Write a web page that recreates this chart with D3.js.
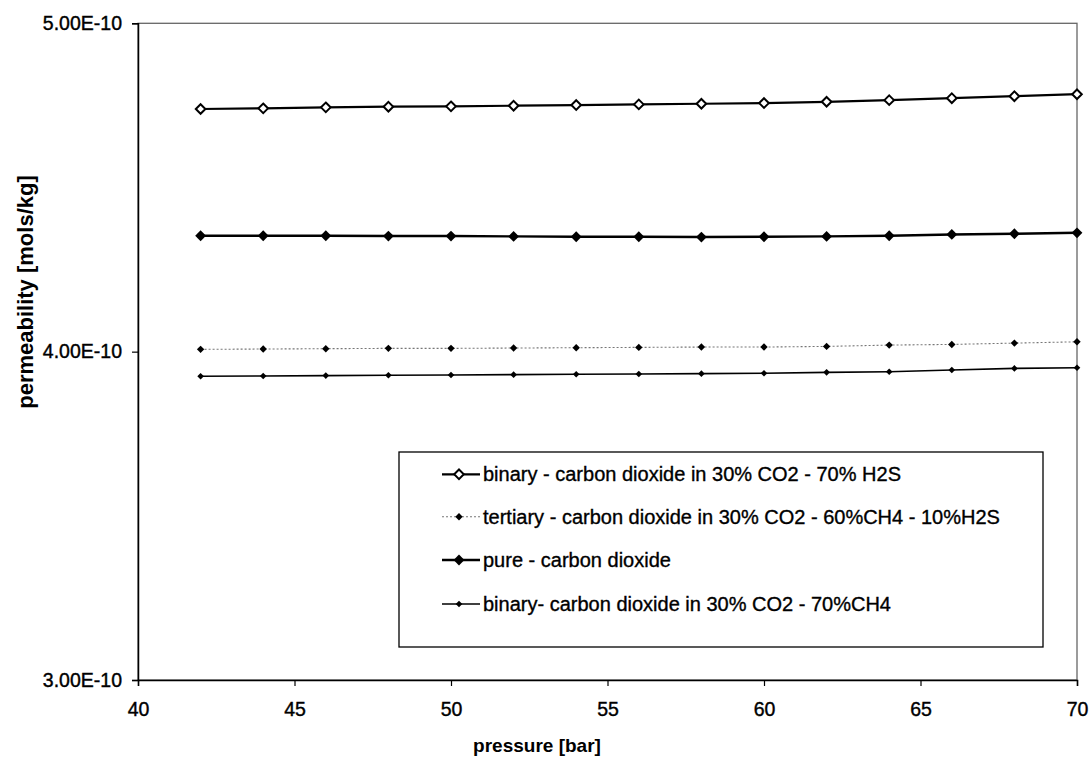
<!DOCTYPE html>
<html>
<head>
<meta charset="utf-8">
<script src="https://cdn.jsdelivr.net/npm/d3@7"></script>
<style>
  html, body { margin: 0; padding: 0; background: #fff; }
  svg { display: block; }
  text { font-family: "Liberation Sans", Arial, sans-serif; fill: #000; }
</style>
</head>
<body>
<svg id="chart" width="1091" height="757"></svg>
<script>
// Pressure steps (bar)
const pressure = [42, 44, 46, 48, 50, 52, 54, 56, 58, 60, 62, 64, 66, 68, 70];

// Permeability of CO2 for each feed composition (mols/kg)
const binaryH2S = [4.739e-10, 4.741e-10, 4.744e-10, 4.746e-10, 4.747e-10, 4.749e-10, 4.751e-10, 4.753e-10,
                   4.755e-10, 4.757e-10, 4.761e-10, 4.766e-10, 4.772e-10, 4.778e-10, 4.784e-10];
const tertiary  = [4.007e-10, 4.008e-10, 4.009e-10, 4.010e-10, 4.010e-10, 4.011e-10, 4.012e-10, 4.013e-10,
                   4.014e-10, 4.014e-10, 4.016e-10, 4.020e-10, 4.022e-10, 4.026e-10, 4.030e-10];
const pureCO2   = [4.353e-10, 4.353e-10, 4.353e-10, 4.352e-10, 4.352e-10, 4.351e-10, 4.350e-10, 4.350e-10,
                   4.349e-10, 4.350e-10, 4.351e-10, 4.353e-10, 4.357e-10, 4.359e-10, 4.362e-10];
const binaryCH4 = [3.925e-10, 3.926e-10, 3.927e-10, 3.928e-10, 3.929e-10, 3.930e-10, 3.931e-10, 3.932e-10,
                   3.933e-10, 3.934e-10, 3.937e-10, 3.939e-10, 3.944e-10, 3.949e-10, 3.951e-10];

const seriesNames = [
  "binary - carbon dioxide in 30% CO2 - 70% H2S",
  "tertiary - carbon dioxide in 30% CO2 - 60%CH4 - 10%H2S",
  "pure - carbon dioxide",
  "binary- carbon dioxide in 30% CO2 - 70%CH4"
];

const xTicks = [40, 45, 50, 55, 60, 65, 70];
const yTicks = [3e-10, 4e-10, 5e-10];

// Visual style per series
const styles = [
  { values: binaryH2S, stroke: "#000", width: 2.2, dash: null,  r: 4.8, fill: "#fff", mstroke: 2 },
  { values: tertiary,  stroke: "#777", width: 1.1, dash: "2,2", r: 3.7, fill: "#000", mstroke: 0 },
  { values: pureCO2,   stroke: "#000", width: 2.4, dash: null,  r: 5.4, fill: "#000", mstroke: 0 },
  { values: binaryCH4, stroke: "#000", width: 1.6, dash: null,  r: 3.3, fill: "#000", mstroke: 0 }
];

const svg = d3.select("#chart");
const plotLeft = 138, plotRight = 1077, plotTop = 23.3, plotBottom = 680;

const x = d3.scaleLinear().domain([40, 70]).range([plotLeft, plotRight]);
const y = d3.scaleLinear().domain([3e-10, 5e-10]).range([plotBottom, plotTop]);

// square diamond marker (rotated square)
const squareDiamond = {
  draw(ctx, size) {
    const r = Math.sqrt(size / 2);
    ctx.moveTo(0, -r); ctx.lineTo(r, 0); ctx.lineTo(0, r); ctx.lineTo(-r, 0); ctx.closePath();
  }
};
const marker = r => d3.symbol().type(squareDiamond).size(2 * r * r)();

// plot frame
svg.append("rect")
  .attr("x", plotLeft).attr("y", plotTop)
  .attr("width", plotRight - plotLeft).attr("height", plotBottom - plotTop)
  .attr("fill", "none").attr("stroke", "#666").attr("stroke-width", 1.3);

// axes
const xAxis = d3.axisBottom(x).tickValues(xTicks).tickSize(6).tickPadding(16).tickFormat(d3.format("d"));
const yAxis = d3.axisLeft(y).tickValues(yTicks).tickSize(6).tickPadding(10)
  .tickFormat(v => (v / 1e-10).toFixed(2) + "E-10");

const gx = svg.append("g").attr("transform", `translate(0,${plotBottom})`).call(xAxis);
const gy = svg.append("g").attr("transform", `translate(${plotLeft},0)`).call(yAxis);
[gx, gy].forEach(g => {
  g.select(".domain").attr("stroke", "#000").attr("stroke-width", 1.5);
  g.selectAll(".tick line").attr("stroke", "#000").attr("stroke-width", 1.2);
  g.selectAll(".tick text").attr("font-size", 19.5).attr("fill", "#000")
    .attr("stroke", "#000").attr("stroke-width", 0.4)
    .attr("font-family", "Liberation Sans, Arial, sans-serif");
});

// axis titles
svg.append("text")
  .attr("x", 537).attr("y", 752)
  .attr("text-anchor", "middle").attr("font-size", 19).attr("font-weight", "bold")
  .text("pressure [bar]");
svg.append("text")
  .attr("transform", "translate(33,292) rotate(-90)")
  .attr("text-anchor", "middle").attr("font-size", 22).attr("font-weight", "bold")
  .text("permeability [mols/kg]");

// series lines and markers
const line = d3.line().x((d, i) => x(pressure[i])).y(d => y(d));
styles.forEach(s => {
  const g = svg.append("g");
  g.append("path").datum(s.values)
    .attr("d", line).attr("fill", "none")
    .attr("stroke", s.stroke).attr("stroke-width", s.width)
    .attr("stroke-dasharray", s.dash);
  g.selectAll("path.m").data(s.values).join("path")
    .attr("class", "m")
    .attr("transform", (d, i) => `translate(${x(pressure[i])},${y(d)})`)
    .attr("d", marker(s.r))
    .attr("fill", s.fill)
    .attr("stroke", "#000").attr("stroke-width", s.mstroke);
});

// legend
const lg = svg.append("g");
lg.append("rect").attr("x", 399).attr("y", 452).attr("width", 644).attr("height", 195)
  .attr("fill", "#fff").attr("stroke", "#000").attr("stroke-width", 1.3);
const rowY = [474.3, 516.7, 560, 604];
styles.forEach((s, k) => {
  const cy = rowY[k];
  lg.append("line").attr("x1", 442).attr("x2", 480).attr("y1", cy).attr("y2", cy)
    .attr("stroke", s.stroke).attr("stroke-width", s.width).attr("stroke-dasharray", s.dash);
  lg.append("path").attr("transform", `translate(459,${cy})`).attr("d", marker(s.r))
    .attr("fill", s.fill).attr("stroke", "#000").attr("stroke-width", s.mstroke);
  lg.append("text").attr("x", 483).attr("y", cy + 7).attr("font-size", 20)
    .attr("stroke", "#000").attr("stroke-width", 0.35)
    .text(seriesNames[k]);
});
</script>
</body>
</html>
